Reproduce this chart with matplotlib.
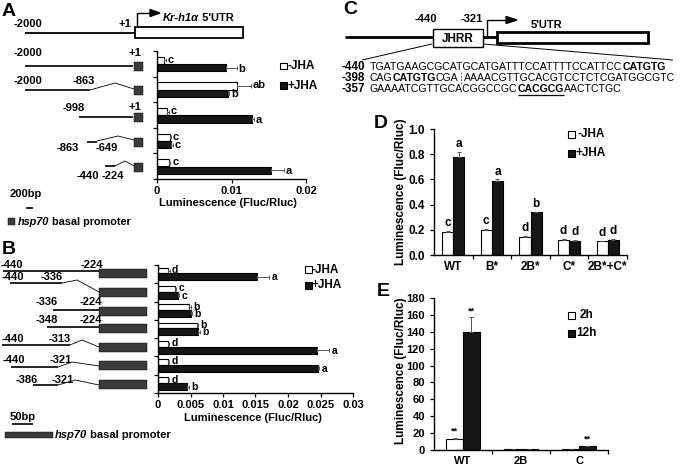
import matplotlib
matplotlib.use('Agg')
import matplotlib.pyplot as plt
from matplotlib.patches import Rectangle, Polygon
import numpy as np

plt.rcParams['font.family'] = ['Liberation Sans', 'DejaVu Sans']
plt.rcParams['font.weight'] = 'bold'

# ---------------- data ----------------
# Panel A (horizontal bars, top to bottom)
a_minus = [0.0010, 0.0108, 0.0013, 0.0017, 0.0016]
a_minus_err = [0.0002, 0.0018, 0.0003, 0.0002, 0.0002]
a_plus = [0.0093, 0.0095, 0.0128, 0.0019, 0.0153]
a_plus_err = [0.0014, 0.0002, 0.0002, 0.0002, 0.0017]
a_minus_sig = ['c', 'ab', 'c', 'c', 'c']
a_plus_sig = ['b', 'b', 'a', 'c', 'a']
a_ticks = [0, 0.01, 0.02]
a_ticklabels = ['0', '0.01', '0.02']

# Panel B
b_minus = [0.0015, 0.0026, 0.0048, 0.0060, 0.0015, 0.0015, 0.0015]
b_minus_err = [0.0003, 0.0002, 0.0002, 0.0002, 0.0002, 0.0002, 0.0002]
b_plus = [0.0153, 0.0030, 0.0050, 0.0062, 0.0245, 0.0246, 0.0045]
b_plus_err = [0.0018, 0.0002, 0.0002, 0.0002, 0.0018, 0.0002, 0.0002]
b_minus_sig = ['d', 'c', 'b', 'b', 'd', 'd', 'd']
b_plus_sig = ['a', 'c', 'b', 'b', 'a', 'a', 'b']
b_ticks = [0, 0.005, 0.01, 0.015, 0.02, 0.025, 0.03]
b_ticklabels = ['0', '0.005', '0.01', '0.015', '0.02', '0.025', '0.03']

# Panel D
d_cats = ['WT', 'B*', '2B*', 'C*', '2B*+C*']
d_minus = [0.18, 0.195, 0.14, 0.12, 0.11]
d_minus_err = [0.01, 0.01, 0.01, 0.005, 0.005]
d_plus = [0.78, 0.59, 0.34, 0.11, 0.12]
d_plus_err = [0.04, 0.01, 0.005, 0.01, 0.005]
d_minus_sig = ['c', 'c', 'd', 'd', 'd']
d_plus_sig = ['a', 'a', 'b', 'd', 'd']

# Panel E
e_cats = ['WT', '2B', 'C']
e_2h = [13, 1, 1]
e_2h_err = [1, 0.2, 0.2]
e_12h = [140, 1, 4.5]
e_12h_err = [17, 0.2, 0.5]
e_2h_sig = ['**', '', '']
e_12h_sig = ['**', '', '**']

# Sequence (panel C)
seq1 = [('TGATGAAGCGCATGCATGATTTCCATTTTCCATTCC', False, False), ('CATGTG', True, False)]
seq2 = [('CAG', False, False), ('CATGTG', True, False), ('CGA', False, False), ('|', False, False),
        ('AAAACGTTGCACGTCCTCTCGATGGCGTC', False, False)]
seq3 = [('GAAAATCGTTGCACGGCCGC', False, False), ('CACGCG', True, True), ('AACTCTGC', False, False)]

# ---------------- figure ----------------
W, H = 683, 467
fig = plt.figure(figsize=(W / 100, H / 100), dpi=100)
ov = fig.add_axes([0, 0, 1, 1])
ov.set_xlim(0, W)
ov.set_ylim(H, 0)
ov.axis('off')
R = fig.canvas.get_renderer()


def px_axes(x0, y0, x1, y1):
    ax = fig.add_axes([x0 / W, 1 - y1 / H, (x1 - x0) / W, (y1 - y0) / H])
    ax.set_facecolor('none')
    return ax


def T(x, y, s, size=8, weight='bold', ha='center', va='center', **kw):
    return ov.text(x, y, s, fontsize=size, fontweight=weight, ha=ha, va=va, **kw)


def L(xs, ys, lw=1.2, color='k', **kw):
    ov.plot(xs, ys, color=color, lw=lw, solid_capstyle='butt', **kw)


def sq(x, y, w, h, fc, lw=0.8):
    ov.add_patch(Rectangle((x, y), w, h, facecolor=fc, edgecolor='k', lw=lw))


def width(t):
    return t.get_window_extent(R).width


def style_axes(ax):
    for s in ['top', 'right']:
        ax.spines[s].set_visible(False)
    for s in ['left', 'bottom']:
        ax.spines[s].set_linewidth(1.0)
    ax.tick_params(direction='out', length=3, width=0.9, labelsize=8)


ekw = dict(ecolor='#555555', elinewidth=0.7, capsize=1.5, capthick=0.7)


def hbar(ax, minus, merr, plus, perr, msig, psig, xmax, ticks, tlabels, woff, wh, boff, bh, fsig):
    n = len(minus)
    idx = np.arange(n)
    ax.barh(idx + woff, minus, height=wh, color='white', edgecolor='k', lw=0.8,
            xerr=[np.zeros(n), merr], error_kw=ekw)
    ax.barh(idx + boff, plus, height=bh, color='#161616', edgecolor='k', lw=0.8,
            xerr=[np.zeros(n), perr], error_kw=ekw)
    pad = xmax * 0.012
    for i in range(n):
        ax.text(minus[i] + merr[i] + pad, i + woff - 0.03, msig[i], ha='left', va='center',
                fontsize=fsig, fontweight='bold')
        ax.text(plus[i] + perr[i] + pad, i + boff + 0.03, psig[i], ha='left', va='center',
                fontsize=fsig, fontweight='bold')
    ax.set_ylim(n, 0)
    ax.set_xlim(0, xmax)
    ax.set_yticks(np.arange(n + 1))
    ax.set_yticklabels([])
    ax.set_xticks(ticks)
    ax.set_xticklabels(tlabels)
    style_axes(ax)
    ax.tick_params(axis='x', pad=2)


def vbar(ax, cats, minus, merr, plus, perr, msig, psig, ymax, yticks, ylabels, fs_sig, sz):
    n = len(cats)
    idx = np.arange(n)
    bw = 0.29
    ax.bar(idx - bw / 2, minus, width=bw, color='white', edgecolor='k', lw=0.8,
           yerr=[np.zeros(n), merr], error_kw=ekw)
    ax.bar(idx + bw / 2, plus, width=bw, color='#161616', edgecolor='k', lw=0.8,
           yerr=[np.zeros(n), perr], error_kw=ekw)
    pad = ymax * 0.015
    for i in range(n):
        ax.text(i - bw / 2, minus[i] + merr[i] + pad, msig[i], ha='center', va='bottom',
                fontsize=fs_sig, fontweight='bold')
        ax.text(i + bw / 2, plus[i] + perr[i] + pad, psig[i], ha='center', va='bottom',
                fontsize=fs_sig, fontweight='bold')
    ax.set_xlim(-0.5, n - 0.5)
    ax.set_ylim(0, ymax)
    ax.set_xticks(np.arange(n) + 0.5)
    ax.set_xticklabels([])
    ax.set_xticks(idx, minor=True)
    ax.set_xticklabels(cats, minor=True)
    ax.set_yticks(yticks)
    ax.set_yticklabels(ylabels)
    style_axes(ax)
    ax.tick_params(labelsize=sz)
    ax.tick_params(axis='x', which='minor', length=0, pad=4, labelsize=sz)


# ---------------- Panel A ----------------
T(9, 11, 'A', size=14)
L([25, 135], [33, 33], lw=1.3)
sq(135, 27, 108, 11, 'white', lw=1.3)
L([137, 137, 152], [27, 13, 13], lw=1.0)
ov.add_patch(Polygon([[150, 9.5], [150, 16.5], [160, 13]], closed=True, color='k'))
T(28, 24, '-2000')
T(125, 24, '+1')
t1 = T(163, 18, 'Kr-h1α', style='italic', ha='left')
T(163 + width(t1), 18, ' 5\'UTR', ha='left')

# constructs
L([25, 133], [66, 66]); sq(134, 62, 9, 9, '#3a3a3a', lw=0.3)
T(28, 53, '-2000'); T(135, 53, '+1')
L([25, 90], [90, 90]); L([90, 115, 134], [90, 83, 89], lw=0.6); sq(134, 85.5, 9, 9, '#3a3a3a', lw=0.3)
T(28, 81, '-2000'); T(84, 81, '-863')
L([79, 133], [117, 117]); sq(134, 112.5, 9, 9, '#3a3a3a', lw=0.3)
T(74, 108, '-998'); T(135, 107, '+1')
L([87, 97], [141.5, 141.5]); L([97, 118, 134], [141, 136, 140], lw=0.6); sq(134, 137.5, 9, 9, '#3a3a3a', lw=0.3)
T(68, 148, '-863'); T(107, 148, '-649')
L([105, 115], [166, 166]); L([115, 125, 134], [166, 161, 166], lw=0.6); sq(134, 162.5, 9, 9, '#3a3a3a', lw=0.3)
T(88, 176, '-440'); T(113, 176, '-224')
T(26, 194, '200bp')
L([26, 33], [208, 208], lw=1.2)
sq(8, 218, 7, 7, '#3a3a3a', lw=0.3)
t2 = T(18, 222, 'hsp70', size=7.8, style='italic', ha='left')
T(18 + width(t2), 222, ' basal promoter', size=7.8, ha='left')

axA = px_axes(157, 51, 306, 179)
hbar(axA, a_minus, a_minus_err, a_plus, a_plus_err, a_minus_sig, a_plus_sig,
     0.02, a_ticks, a_ticklabels, 0.37, 0.28, 0.655, 0.28, 8)
T(228, 203, 'Luminescence (Fluc/Rluc)')
sq(280, 62.5, 6.5, 6.5, 'white')
T(287, 66, '-JHA', size=8.5, ha='left')
sq(280, 82, 6.5, 6.5, '#161616')
T(287, 86, '+JHA', size=8.5, ha='left')

# ---------------- Panel B ----------------
T(9, 249, 'B', size=14)
bx0, bx1 = 99, 147
centers = [273, 292, 311, 328, 347, 365, 384]
for c in centers:
    sq(bx0, c - 4.5, bx1 - bx0, 9, '#3a3a3a', lw=0.3)
L([3, 99], [271, 271]); T(12, 265, '-440'); T(92, 265, '-224')
L([10, 62], [283, 283]); L([62, 77, 99], [283, 280, 292], lw=0.6); T(13, 277.5, '-440'); T(52, 277.5, '-336')
L([53, 99], [310, 310]); T(47, 302, '-336'); T(91, 302, '-224')
L([47, 99], [327, 327]); T(47, 320, '-348'); T(91, 320, '-224')
L([2, 70], [345, 345]); L([70, 82, 99], [345, 340, 347], lw=0.6); T(13, 339, '-440'); T(60, 339, '-313')
L([11, 58], [367, 367]); L([58, 72, 99], [367, 362, 366], lw=0.6); T(14, 360, '-440'); T(61, 360, '-321')
L([33, 58], [385, 385]); L([58, 75, 99], [385, 380, 385], lw=0.6); T(27, 380, '-386'); T(63, 380, '-321')
T(23, 417, '50bp')
L([12, 33], [424, 424], lw=1.2)
sq(5, 432, 48, 6, '#3a3a3a', lw=0.3)
t3 = T(55, 435, 'hsp70', style='italic', ha='left')
T(55 + width(t3), 435, ' basal promoter', ha='left')

axB = px_axes(158, 265, 353, 393)
hbar(axB, b_minus, b_minus_err, b_plus, b_plus_err, b_minus_sig, b_plus_sig,
     0.03, b_ticks, b_ticklabels, 0.305, 0.31, 0.65, 0.38, 7.5)
T(253, 418, 'Luminescence (Fluc/Rluc)')
sq(305, 266, 6.5, 6.5, 'white')
T(312, 270, '-JHA', size=8.5, ha='left')
sq(305, 282, 6.5, 6.5, '#161616')
T(312, 285, '+JHA', size=8.5, ha='left')

# ---------------- Panel C ----------------
T(350, 9, 'C', size=14)
L([345, 433], [37, 37], lw=2)
L([483, 497], [37, 37], lw=2)
sq(433, 29, 50, 18, 'white', lw=1.0)
T(458, 39, 'JHRR', size=8.5)
sq(497, 32, 151, 11, 'white', lw=2)
L([487, 487, 508], [37, 20, 20], lw=1.0)
ov.add_patch(Polygon([[506, 16.5], [506, 23.5], [517, 20]], closed=True, color='k'))
T(426, 19, '-440'); T(472, 19, '-321')
T(546, 25, "5'UTR")
L([432, 362], [44, 60], lw=0.7)
L([483, 673], [44, 60], lw=0.7)

GAP = 5


def line_width(parts, fs):
    tot = 0
    for s, b, u in parts:
        if s == '|':
            tot += GAP
            continue
        t = T(0, -100, s, size=fs, weight='bold' if b else 'normal', ha='left')
        tot += width(t)
        t.remove()
    return tot


def seq_line(y, num, parts, fs):
    T(342, y, num, size=fs + 0.8, ha='left')
    x = 370
    for s, b, u in parts:
        if s == '|':
            L([x + GAP / 2, x + GAP / 2], [y - 6, y + 6], lw=0.7, color='#666666', linestyle=(0, (2, 1.5)))
            x += GAP
            continue
        t = T(x, y, s, size=fs, weight='bold' if b else 'normal', ha='left')
        w = width(t)
        if u:
            L([x, x + w], [y + 6, y + 6], lw=0.9)
        x += w
    return x


# calibrate font size so the longest line (line 2) spans to ~677 px
fs = 8 * (677 - 370) / line_width(seq2, 8)
seq_line(67, '-440', seq1, fs)
seq_line(78, '-398', seq2, fs)
seq_line(89, '-357', seq3, fs)

# ---------------- Panel D ----------------
T(381, 123, 'D', size=14)
axD = px_axes(434, 129, 627, 255)
vbar(axD, d_cats, d_minus, d_minus_err, d_plus, d_plus_err, d_minus_sig, d_plus_sig,
     1.0, np.arange(0, 1.01, 0.2), ['0.0', '0.2', '0.4', '0.6', '0.8', '1.0'], 8.5, 8.5)
T(401, 192, 'Luminescence (Fluc/Rluc)', size=8.5, rotation=90)
sq(568, 131, 6.5, 6.5, 'white')
T(577, 134, '-JHA', size=8.5, ha='left')
sq(568, 150, 6.5, 6.5, '#161616')
T(576, 153, '+JHA', size=8.5, ha='left')

# ---------------- Panel E ----------------
T(383, 291, 'E', size=14)
axE = px_axes(434, 298, 608, 450)
vbar(axE, e_cats, e_2h, e_2h_err, e_12h, e_12h_err, e_2h_sig, e_12h_sig,
     180, np.arange(0, 181, 20), [str(v) for v in range(0, 181, 20)], 6.5, 8)
T(401, 371, 'Luminescence (Fluc/Rluc)', size=8.5, rotation=90)
sq(568, 312, 6.5, 6.5, 'white')
T(580, 315, '2h', size=8.5, ha='left')
sq(568, 330, 6.5, 6.5, '#161616')
T(576, 333, '12h', size=8.5, ha='left')

fig.savefig('out.png', dpi=100)
